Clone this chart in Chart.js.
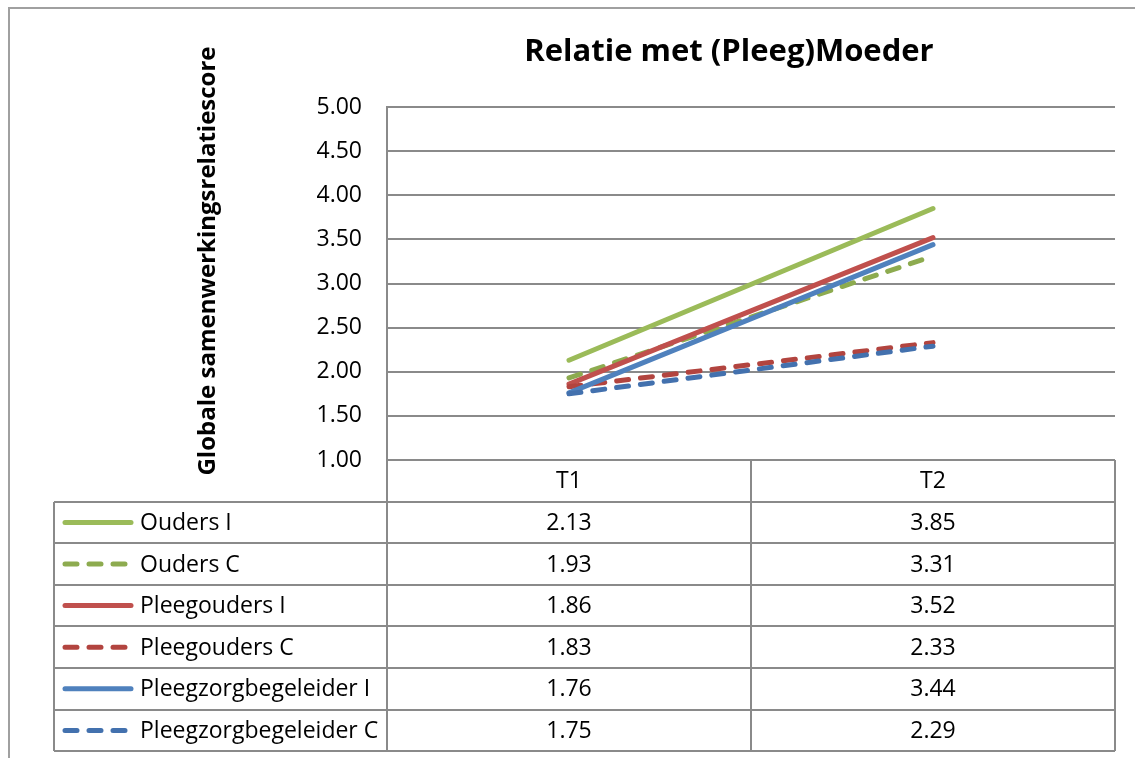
<!DOCTYPE html>
<html>
<head>
<meta charset="utf-8">
<title>Relatie met (Pleeg)Moeder</title>
<script src="https://cdn.jsdelivr.net/npm/chart.js@4/dist/chart.umd.min.js"></script>
<style>
  html, body { margin: 0; padding: 0; background: #ffffff; }
  #wrap { width: 1135px; height: 758px; }
</style>
</head>
<body>
<div id="wrap"><canvas id="chart" width="1135" height="758"></canvas></div>
<script>
// Measurement moments
const categories = ['T1', 'T2'];

// Series names and mean scores per moment
const seriesNames = [
  'Ouders I',
  'Ouders C',
  'Pleegouders I',
  'Pleegouders C',
  'Pleegzorgbegeleider I',
  'Pleegzorgbegeleider C'
];
const oudersI = [2.13, 3.85];
const oudersC = [1.93, 3.31];
const pleegoudersI = [1.86, 3.52];
const pleegoudersC = [1.83, 2.33];
const begeleiderI = [1.76, 3.44];
const begeleiderC = [1.75, 2.29];

// Value axis
const yMin = 1.0;
const yMax = 5.0;
const yStep = 0.5;

const chartTitle = 'Relatie met (Pleeg)Moeder';
const yTitle = 'Globale samenwerkingsrelatiescore';

const seriesValues = [oudersI, oudersC, pleegoudersI, pleegoudersC, begeleiderI, begeleiderC];
const seriesColors = ['#9BBB59', '#8DAB4F', '#C0504D', '#B2443F', '#4F81BD', '#4371AE'];
const seriesDashed = [false, true, false, true, false, true];

const FONT = '"Open Sans", "Liberation Sans", sans-serif';
const TEXT_SIZE = 23;
const GRID = '#8A8A8A';
const DASH = [12, 12];
const LINE_W = 5;

const datasets = seriesNames.map((name, i) => ({
  label: name,
  data: seriesValues[i],
  borderColor: seriesColors[i],
  backgroundColor: seriesColors[i],
  borderWidth: LINE_W,
  borderDash: seriesDashed[i] ? DASH : [],
  borderCapStyle: 'round',
  borderJoinStyle: 'round',
  pointRadius: 0,
  pointHoverRadius: 0,
  tension: 0,
  fill: false,
  // later series are painted above earlier ones
  order: seriesNames.length - i
}));

// Frame, titles and the data table below the plot
const tablePlugin = {
  id: 'dataTable',
  afterDraw(chart) {
    const ctx = chart.ctx;
    const area = chart.chartArea;
    const xs = chart.scales.x;
    const rowH = 41.6;
    const tableLeft = 54;
    const colLeft = area.left;
    const colRight = area.right;
    const colMid = (xs.getPixelForValue(0) + xs.getPixelForValue(1)) / 2;
    const nRows = seriesNames.length;
    const top = area.bottom;
    const bottom = top + rowH * (nRows + 1);

    ctx.save();

    // outer frame of the chart object
    ctx.strokeStyle = '#A0A0A0';
    ctx.lineWidth = 2;
    ctx.beginPath();
    ctx.moveTo(9, 800);
    ctx.lineTo(9, 8);
    ctx.lineTo(1200, 8);
    ctx.stroke();

    // main title
    ctx.fillStyle = '#000000';
    ctx.font = 'bold 31px ' + FONT;
    ctx.textAlign = 'center';
    ctx.textBaseline = 'alphabetic';
    ctx.fillText(chartTitle, 729, 61);

    // vertical axis title
    ctx.save();
    ctx.translate(208, 261);
    ctx.rotate(-Math.PI / 2);
    ctx.font = 'bold 24px ' + FONT;
    ctx.textAlign = 'center';
    ctx.textBaseline = 'middle';
    ctx.fillText(yTitle, 0, 0);
    ctx.restore();

    // table grid
    ctx.strokeStyle = GRID;
    ctx.lineWidth = 2;
    ctx.beginPath();
    for (let r = 1; r <= nRows + 1; r++) {
      const y = Math.round(top + rowH * r);
      ctx.moveTo(tableLeft, y);
      ctx.lineTo(colRight, y);
    }
    ctx.moveTo(tableLeft, Math.round(top + rowH));
    ctx.lineTo(tableLeft, Math.round(bottom));
    [colLeft, colMid, colRight].forEach(x => {
      const px = Math.round(x);
      ctx.moveTo(px, top);
      ctx.lineTo(px, Math.round(bottom));
    });
    ctx.stroke();

    // header row with the moments
    ctx.fillStyle = '#000000';
    ctx.font = TEXT_SIZE + 'px ' + FONT;
    ctx.textAlign = 'center';
    ctx.textBaseline = 'middle';
    categories.forEach((c, j) => {
      ctx.fillText(c, xs.getPixelForValue(j), top + rowH / 2 + 1);
    });

    // one row per series: legend key, name and values
    seriesNames.forEach((name, i) => {
      const cy = top + rowH * (i + 1) + rowH / 2;
      ctx.save();
      ctx.strokeStyle = seriesColors[i];
      ctx.lineWidth = LINE_W;
      ctx.lineCap = 'round';
      ctx.setLineDash(seriesDashed[i] ? DASH : []);
      ctx.beginPath();
      ctx.moveTo(65, cy);
      ctx.lineTo(131, cy);
      ctx.stroke();
      ctx.restore();

      ctx.fillStyle = '#000000';
      ctx.font = TEXT_SIZE + 'px ' + FONT;
      ctx.textAlign = 'left';
      ctx.fillText(name, 140, cy + 1);
      ctx.textAlign = 'center';
      seriesValues[i].forEach((v, j) => {
        ctx.fillText(v.toFixed(2), xs.getPixelForValue(j), cy + 1);
      });
    });

    ctx.restore();
  }
};

new Chart(document.getElementById('chart'), {
  type: 'line',
  data: { labels: categories, datasets: datasets },
  options: {
    responsive: false,
    devicePixelRatio: 1,
    animation: false,
    events: [],
    layout: { padding: { left: 0, top: 107, right: 20, bottom: 298 } },
    plugins: {
      legend: { display: false },
      title: { display: false },
      tooltip: { enabled: false }
    },
    scales: {
      x: {
        type: 'category',
        offset: true,
        display: false
      },
      y: {
        min: yMin,
        max: yMax,
        afterFit(scale) { scale.width = 387; },
        ticks: {
          stepSize: yStep,
          padding: 25,
          color: '#000000',
          font: { family: FONT, size: TEXT_SIZE },
          callback: v => Number(v).toFixed(2)
        },
        grid: {
          color: GRID,
          lineWidth: 2,
          drawTicks: false
        },
        border: { display: true, color: GRID, width: 2 }
      }
    }
  },
  plugins: [tablePlugin]
});
</script>
</body>
</html>
